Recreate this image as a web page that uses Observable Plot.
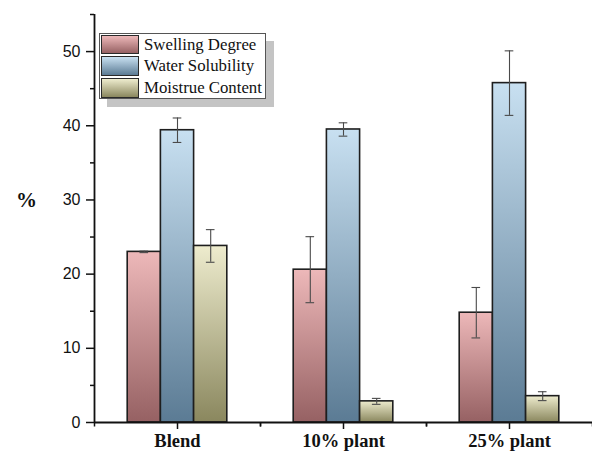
<!DOCTYPE html>
<html>
<head>
<meta charset="utf-8">
<script src="https://cdn.jsdelivr.net/npm/d3@7"></script>
<script src="https://cdn.jsdelivr.net/npm/@observablehq/plot@0.6"></script>
<style>
  body { margin: 0; background: #fff; }
  #wrap { position: relative; width: 592px; height: 452px; overflow: hidden; }
  #legend {
    position: absolute; left: 99px; top: 33px; width: 167px; height: 66px;
    border: 1px solid #555; background: #fff; box-sizing: border-box;
    box-shadow: 8px 8px 0 #c4c4c4;
    font-family: "Liberation Serif", "Times New Roman", serif; font-size: 16.8px; color: #111;
  }
  .item { position: absolute; left: 1px; height: 20px; display: flex; align-items: center; white-space: nowrap; }
  .sw { width: 38px; height: 19.5px; border: 1.5px solid #2a2a2a; box-sizing: border-box; margin-right: 5px; }
</style>
</head>
<body>
<div id="wrap"><div id="legend"></div></div>
<script>
// ---- data ----
const groups = ["Blend", "10% plant", "25% plant"];
const seriesNames = ["Swelling Degree", "Water Solubility", "Moistrue Content"];
const swelling = [23.0, 20.6, 14.8];
const swellingErr = [0.1, 4.45, 3.4];
const solubility = [39.4, 39.5, 45.75];
const solubilityErr = [1.65, 0.9, 4.35];
const moisture = [23.8, 2.85, 3.55];
const moistureErr = [2.2, 0.4, 0.6];
const yTicks = [0, 10, 20, 30, 40, 50];
const yMinorTicks = [5, 15, 25, 35, 45, 55];
const yLabel = "%";

// ---- styles ----
const gradients = [
  {id: "gSwelling", top: "#edb8b9", bottom: "#966163"},
  {id: "gSolubility", top: "#c8e0f1", bottom: "#5b7b94"},
  {id: "gMoisture", top: "#eeecce", bottom: "#8a875e"}
];

const values = [swelling, solubility, moisture];
const errs = [swellingErr, solubilityErr, moistureErr];
const rows = [];
groups.forEach((g, gi) => {
  seriesNames.forEach((s, si) => {
    rows.push({group: g, series: s, si, value: values[si][gi], err: errs[si][gi]});
  });
});

const capHalf = 0.13;
const axisColor = "#111";

const plot = Plot.plot({
  width: 592,
  height: 452,
  marginLeft: 93,
  marginRight: 0,
  marginTop: 14,
  marginBottom: 30,
  style: {fontFamily: "'Liberation Sans', Arial, sans-serif", fontSize: "16px", color: "#111", background: "#fff"},
  fx: {domain: groups, padding: 0},
  x: {domain: [-2.5, 2.5], axis: null},
  y: {domain: [0, 55]},
  marks: [
    ...seriesNames.map((s, si) =>
      Plot.rectY(rows.filter(d => d.series === s), {
        fx: "group",
        x1: d => d.si - 1.5,
        x2: d => d.si - 0.5,
        y1: 0,
        y2: "value",
        fill: `url(#${gradients[si].id})`,
        stroke: "#1e1e1e",
        strokeWidth: 1.6
      })
    ),
    Plot.ruleX(rows, {fx: "group", x: d => d.si - 1, y1: d => d.value - d.err, y2: d => d.value + d.err, stroke: "#4a4a4a", strokeWidth: 1.1}),
    Plot.ruleY(rows, {fx: "group", x1: d => d.si - 1 - capHalf, x2: d => d.si - 1 + capHalf, y: d => d.value + d.err, stroke: "#4a4a4a", strokeWidth: 1.1}),
    Plot.ruleY(rows, {fx: "group", x1: d => d.si - 1 - capHalf, x2: d => d.si - 1 + capHalf, y: d => d.value - d.err, stroke: "#4a4a4a", strokeWidth: 1.1}),
    Plot.ruleY([0], {stroke: axisColor, strokeWidth: 1.8}),
    Plot.ruleX([{fx: "Blend"}], {fx: "fx", x: () => -2.5, y1: 0, y2: 55, stroke: axisColor, strokeWidth: 1.8}),
    Plot.ruleX([-2.5, 2.5], {x: d => d, y1: 0, y2: 0, insetBottom: -4.5, stroke: axisColor, strokeWidth: 1.5}),
    Plot.axisY({ticks: yTicks, tickSize: 8, tickPadding: 6, strokeWidth: 1.5, stroke: axisColor, label: null, fontSize: 16}),
    Plot.axisY({ticks: yMinorTicks, tickSize: 4, tickFormat: () => "", strokeWidth: 1.5, stroke: axisColor, label: null}),
    Plot.axisFx({anchor: "bottom", tickSize: 7, tickPadding: 4, strokeWidth: 1.5, stroke: axisColor, label: null,
      fontSize: 18.5, fontWeight: "bold", fontFamily: "'Liberation Serif', 'Times New Roman', serif"}),
    Plot.text([{fx: "Blend"}], {fx: "fx", frameAnchor: "left", y: () => 30, text: () => yLabel, dx: -68, textAnchor: "middle",
      fontSize: 21, fontWeight: "bold", fontFamily: "'Liberation Serif', 'Times New Roman', serif"})
  ]
});

const defs = d3.select(plot).insert("defs", ":first-child");
gradients.forEach(g => {
  const lg = defs.append("linearGradient").attr("id", g.id).attr("x1", 0).attr("y1", 0).attr("x2", 0).attr("y2", 1);
  lg.append("stop").attr("offset", "0%").attr("stop-color", g.top);
  lg.append("stop").attr("offset", "100%").attr("stop-color", g.bottom);
});

const wrap = document.getElementById("wrap");
wrap.insertBefore(plot, wrap.firstChild);

const legend = document.getElementById("legend");
seriesNames.forEach((s, i) => {
  const item = document.createElement("div");
  item.className = "item";
  item.style.top = (0.5 + i * 21.7) + "px";
  const sw = document.createElement("div");
  sw.className = "sw";
  sw.style.background = `linear-gradient(${gradients[i].top}, ${gradients[i].bottom})`;
  const label = document.createElement("span");
  label.textContent = s;
  item.appendChild(sw);
  item.appendChild(label);
  legend.appendChild(item);
});
</script>
</body>
</html>
